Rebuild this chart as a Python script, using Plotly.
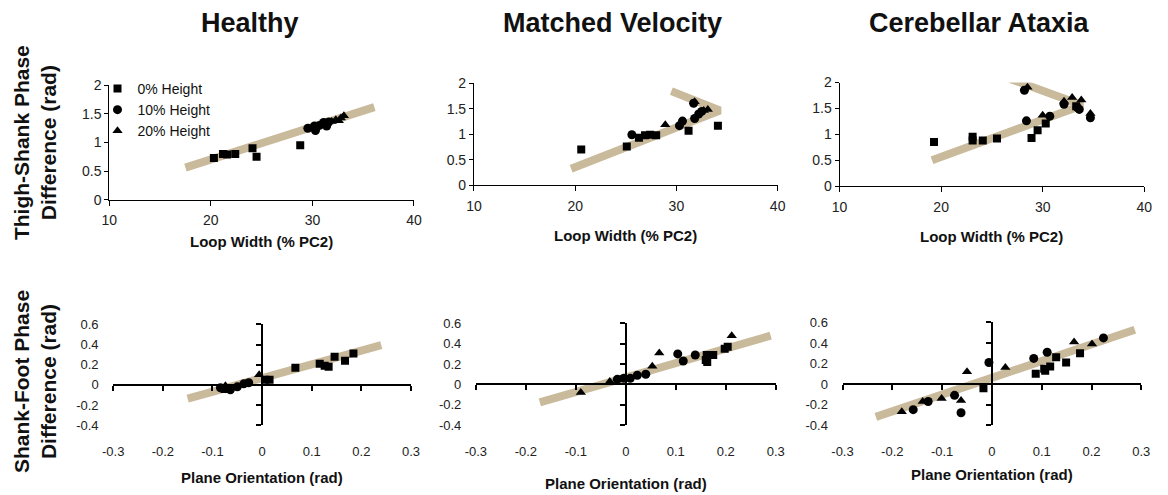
import plotly.graph_objects as go

# ---------------- data ----------------
series_names = ["0% Height", "10% Height", "20% Height"]
column_titles = ["Healthy", "Matched Velocity", "Cerebellar Ataxia"]

# Top row: Loop Width (% PC2) vs Thigh-Shank Phase Difference (rad)
healthy_lw_0 = [20.3, 21.2, 21.6, 22.4, 24.1, 24.5, 28.8]
healthy_ts_0 = [0.73, 0.80, 0.79, 0.80, 0.90, 0.75, 0.95]
healthy_lw_10 = [29.55, 30.2, 30.3, 30.7, 31.1, 31.4, 31.6]
healthy_ts_10 = [1.25, 1.29, 1.21, 1.30, 1.35, 1.29, 1.36]
healthy_lw_20 = [31.9, 32.3, 32.6, 32.8, 33.1]
healthy_ts_20 = [1.37, 1.40, 1.38, 1.43, 1.47]
healthy_lw_fit = [17.5, 36.1]
healthy_ts_fit = [0.56, 1.62]

matched_lw_0 = [20.6, 25.1, 26.3, 26.9, 27.4, 28.0, 31.2, 34.1]
matched_ts_0 = [0.70, 0.76, 0.93, 0.98, 0.99, 0.98, 1.07, 1.17]
matched_lw_10 = [25.6, 30.3, 30.6, 31.7, 31.8, 32.2, 32.5]
matched_ts_10 = [0.99, 1.17, 1.26, 1.61, 1.31, 1.40, 1.45]
matched_lw_20 = [28.9, 31.8, 32.7, 33.1]
matched_ts_20 = [1.19, 1.64, 1.47, 1.49]
matched_lw_fit = [19.6, 34.3, 29.5]
matched_ts_fit = [0.32, 1.47, 1.85]

ataxia_lw_0 = [19.3, 23.1, 23.1, 24.1, 25.5, 28.9, 29.5, 30.3, 33.3]
ataxia_ts_0 = [0.85, 0.95, 0.88, 0.88, 0.92, 0.93, 1.08, 1.21, 1.54]
ataxia_lw_10 = [28.2, 28.4, 30.7, 32.1, 33.6, 34.7, 33.4]
ataxia_ts_10 = [1.85, 1.26, 1.35, 1.58, 1.48, 1.32, 1.52]
ataxia_lw_20 = [28.5, 30.0, 32.1, 32.9, 33.8, 34.7]
ataxia_ts_20 = [1.91, 1.37, 1.64, 1.71, 1.66, 1.40]
ataxia_lw_fit = [19.1, 33.9, 26.8]
ataxia_ts_fit = [0.50, 1.56, 2.07]

# Bottom row: Plane Orientation (rad) vs Shank-Foot Phase Difference (rad)
healthy_po_0 = [0.006, 0.015, 0.067, 0.116, 0.126, 0.134, 0.146, 0.167, 0.184]
healthy_sf_0 = [0.05, 0.05, 0.17, 0.21, 0.19, 0.18, 0.28, 0.24, 0.31]
healthy_po_10 = [-0.084, -0.064, -0.050, -0.037, -0.027]
healthy_sf_10 = [-0.03, -0.05, -0.02, 0.01, 0.02]
healthy_po_20 = [-0.074, -0.074, -0.068, -0.006]
healthy_sf_20 = [-0.01, -0.06, -0.05, 0.10]
healthy_po_fit = [-0.15, 0.24]
healthy_sf_fit = [-0.137, 0.394]

matched_po_0 = [0.160, 0.162, 0.163, 0.175, 0.198, 0.204]
matched_sf_0 = [0.24, 0.29, 0.22, 0.29, 0.35, 0.37]
matched_po_10 = [-0.017, -0.004, 0.009, 0.023, 0.040, 0.104, 0.115, 0.139]
matched_sf_10 = [0.05, 0.06, 0.06, 0.09, 0.10, 0.30, 0.23, 0.29]
matched_po_20 = [-0.090, -0.032, -0.011, 0.053, 0.067, 0.212]
matched_sf_20 = [-0.08, 0.03, 0.05, 0.18, 0.31, 0.48]
matched_po_fit = [-0.172, 0.29]
matched_sf_fit = [-0.176, 0.48]

ataxia_po_0 = [-0.017, 0.088, 0.105, 0.107, 0.117, 0.129, 0.149, 0.177]
ataxia_sf_0 = [-0.04, 0.10, 0.15, 0.13, 0.17, 0.26, 0.21, 0.30]
ataxia_po_10 = [-0.158, -0.128, -0.075, -0.062, -0.006, 0.084, 0.111, 0.224]
ataxia_sf_10 = [-0.25, -0.17, -0.11, -0.28, 0.21, 0.25, 0.31, 0.45]
ataxia_po_20 = [-0.181, -0.139, -0.101, -0.062, -0.050, 0.027, 0.165, 0.201]
ataxia_sf_20 = [-0.27, -0.17, -0.14, -0.16, 0.12, 0.16, 0.41, 0.39]
ataxia_po_fit = [-0.233, 0.287]
ataxia_sf_fit = [-0.32, 0.53]

top_x_ticks = [10, 20, 30, 40]
top_x_labels = ["10", "20", "30", "40"]
top_y_ticks = [0, 0.5, 1, 1.5, 2]
top_y_labels = ["0", "0.5", "1", "1.5", "2"]
bot_x_ticks = [-0.3, -0.2, -0.1, 0, 0.1, 0.2, 0.3]
bot_x_labels = ["-0.3", "-0.2", "-0.1", "0", "0.1", "0.2", "0.3"]
bot_y_ticks = [-0.4, -0.2, 0, 0.2, 0.4, 0.6]
bot_y_labels = ["-0.4", "-0.2", "0", "0.2", "0.4", "0.6"]

# ---------------- styling / layout ----------------
W, H = 1168, 495
FONT = "Liberation Sans, Arial, sans-serif"
BAND = "#C9BA9C"
INK = "#111111"
symbols = ["square", "circle", "triangle-up"]
sizes = [8, 9, 9]

top_boxes = [(100, 410, 80, 198), (471, 780, 78, 183), (843, 1153, 77, 184)]
bot_boxes = [(104, 407, 327, 431), (473, 778, 326, 431), (846, 1150, 325, 431)]

top_sets = [
    ([healthy_lw_0, healthy_lw_10, healthy_lw_20], [healthy_ts_0, healthy_ts_10, healthy_ts_20], healthy_lw_fit, healthy_ts_fit),
    ([matched_lw_0, matched_lw_10, matched_lw_20], [matched_ts_0, matched_ts_10, matched_ts_20], matched_lw_fit, matched_ts_fit),
    ([ataxia_lw_0, ataxia_lw_10, ataxia_lw_20], [ataxia_ts_0, ataxia_ts_10, ataxia_ts_20], ataxia_lw_fit, ataxia_ts_fit),
]
bot_sets = [
    ([healthy_po_0, healthy_po_10, healthy_po_20], [healthy_sf_0, healthy_sf_10, healthy_sf_20], healthy_po_fit, healthy_sf_fit),
    ([matched_po_0, matched_po_10, matched_po_20], [matched_sf_0, matched_sf_10, matched_sf_20], matched_po_fit, matched_sf_fit),
    ([ataxia_po_0, ataxia_po_10, ataxia_po_20], [ataxia_sf_0, ataxia_sf_10, ataxia_sf_20], ataxia_po_fit, ataxia_sf_fit),
]


def ax(kind, k):
    return f"{kind}axis" if k == 1 else f"{kind}axis{k}"


def ref(kind, k):
    return kind if k == 1 else f"{kind}{k}"


fig = go.Figure()
layout = {}

tick_font = dict(family=FONT, size=14, color="#222222")
tick_font_b = dict(family=FONT, size=13, color="#222222")


def add_panel(k, sets, legend):
    xs, ys, fx, fy = sets
    fig.add_trace(go.Scatter(x=fx, y=fy, mode="lines", line=dict(color=BAND, width=8),
                             xaxis=ref("x", k), yaxis=ref("y", k), showlegend=False, hoverinfo="skip"))
    for s in range(3):
        fig.add_trace(go.Scatter(x=xs[s], y=ys[s], mode="markers", name=series_names[s],
                                 legendgroup=series_names[s], showlegend=legend,
                                 marker=dict(symbol=symbols[s], size=sizes[s], color="black"),
                                 xaxis=ref("x", k), yaxis=ref("y", k)))


# top row
for i, (l, r, t, b) in enumerate(top_boxes):
    k = i + 1
    layout[ax("x", k)] = dict(domain=[l / W, r / W], range=[10, 40], anchor=ref("y", k),
                              showline=True, linecolor="black", linewidth=1, ticks="outside",
                              ticklen=5, tickcolor="black", tickvals=top_x_ticks, ticktext=top_x_labels,
                              ticklabelstandoff=3,
                              showgrid=False, zeroline=False, tickfont=tick_font)
    layout[ax("y", k)] = dict(domain=[1 - b / H, 1 - t / H], range=[0, 2], anchor=ref("x", k),
                              showline=True, linecolor="black", linewidth=1, ticks="outside",
                              ticklen=4, tickcolor="black", tickvals=top_y_ticks, ticktext=top_y_labels,
                              showgrid=False, zeroline=False, tickfont=tick_font)
    add_panel(k, top_sets[i], legend=(k == 1))

# bottom row (axes cross at zero; tick labels at plot edges)
for i, (l, r, t, b) in enumerate(bot_boxes):
    k = i + 4
    ko = i + 7
    xd = [l / W, r / W]
    yd = [1 - b / H, 1 - t / H]
    zero_y = yd[0] + (0 - (-0.4)) / 1.0 * (yd[1] - yd[0])
    zero_x = xd[0] + 0.5 * (xd[1] - xd[0])
    layout[ax("x", k)] = dict(domain=xd, range=[-0.3, 0.3], anchor=ref("y", k), showline=False,
                              ticks="outside", ticklen=14, tickcolor="rgba(0,0,0,0)",
                              tickvals=bot_x_ticks, ticktext=bot_x_labels, showgrid=False,
                              zeroline=False, tickfont=tick_font_b)
    layout[ax("y", k)] = dict(domain=yd, range=[-0.4, 0.6], anchor=ref("x", k), showline=False,
                              ticks="outside", ticklen=11, tickcolor="rgba(0,0,0,0)",
                              tickvals=bot_y_ticks, ticktext=bot_y_labels, showgrid=False,
                              zeroline=False, tickfont=tick_font_b)
    layout[ax("x", ko)] = dict(overlaying=ref("x", k), anchor="free", position=zero_y,
                               range=[-0.3, 0.3], showline=True, linecolor="black", linewidth=1.5,
                               ticks="outside", ticklen=5, tickcolor="black", tickwidth=1.5,
                               tickvals=bot_x_ticks, showticklabels=False, showgrid=False, zeroline=False)
    layout[ax("y", ko)] = dict(overlaying=ref("y", k), anchor="free", position=zero_x,
                               range=[-0.4, 0.6], showline=True, linecolor="black", linewidth=1.5,
                               ticks="outside", ticklen=5, tickcolor="black", tickwidth=1.5,
                               tickvals=bot_y_ticks, showticklabels=False, showgrid=False, zeroline=False)
    fig.add_trace(go.Scatter(x=[], y=[], xaxis=ref("x", ko), yaxis=ref("y", ko),
                             showlegend=False, hoverinfo="skip"))
    add_panel(k, bot_sets[i], legend=False)

annotations = []
title_centers = [243, 612, 985]
for cx, txt in zip(title_centers, column_titles):
    annotations.append(dict(x=cx / W, y=1 - 15 / H, xref="paper", yref="paper", text=f"<b>{txt}</b>",
                            showarrow=False, xanchor="center", yanchor="middle",
                            font=dict(family=FONT, size=27, color=INK)))

top_title_y = [241, 235, 236]
bot_title_y = [485, 491, 482]
for (l, r, t, b), yy in zip(top_boxes, top_title_y):
    annotations.append(dict(x=(l + r) / 2 / W, y=1 - yy / H, xref="paper", yref="paper",
                            text="<b>Loop Width (% PC2)</b>", showarrow=False, xanchor="center",
                            yanchor="middle", font=dict(family=FONT, size=15, color=INK)))
for (l, r, t, b), yy in zip(bot_boxes, bot_title_y):
    annotations.append(dict(x=(l + r) / 2 / W, y=1 - yy / H, xref="paper", yref="paper",
                            text="<b>Plane Orientation (rad)</b>", showarrow=False, xanchor="center",
                            yanchor="middle", font=dict(family=FONT, size=15, color=INK)))

annotations.append(dict(x=24 / W, y=1 - 139 / H, xref="paper", yref="paper",
                        text="<b>Thigh-Shank Phase<br>Difference (rad)</b>", textangle=-90,
                        showarrow=False, xanchor="center", yanchor="middle",
                        font=dict(family=FONT, size=21, color=INK)))
annotations.append(dict(x=24 / W, y=1 - 386 / H, xref="paper", yref="paper",
                        text="<b>Shank-Foot Phase<br>Difference (rad)</b>", textangle=-90,
                        showarrow=False, xanchor="center", yanchor="middle",
                        font=dict(family=FONT, size=21, color=INK)))

fig.update_layout(
    width=W, height=H, margin=dict(l=0, r=0, t=0, b=0),
    paper_bgcolor="white", plot_bgcolor="white",
    font=dict(family=FONT, color=INK),
    showlegend=True,
    legend=dict(x=88 / W, y=1 - 67 / H, xanchor="left", yanchor="top", bgcolor="rgba(0,0,0,0)",
                font=dict(family=FONT, size=14, color=INK), tracegroupgap=0, itemwidth=30),
    annotations=annotations,
    **layout,
)

fig.write_html("out.html")
